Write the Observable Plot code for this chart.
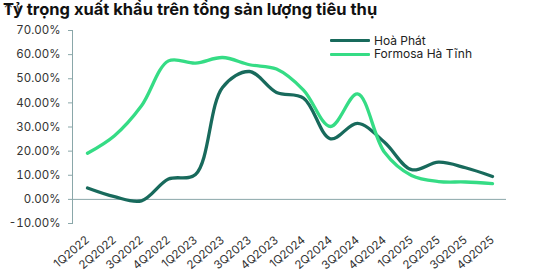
<!DOCTYPE html>
<html>
<head>
<meta charset="utf-8">
<script src="https://cdn.jsdelivr.net/npm/d3@7"></script>
<script src="https://cdn.jsdelivr.net/npm/@observablehq/plot@0.6"></script>
<style>
  body { margin: 0; background: #fff; font-family: Inter, "Liberation Sans", sans-serif; }
  #wrap { position: relative; width: 535px; height: 277px; overflow: hidden; }
  #title { position: absolute; left: 3px; top: 1px; font-size: 16.5px; line-height: 16px; font-weight: 700; color: #111; white-space: nowrap; }
  #legend { position: absolute; left: 330px; top: 34px; font-size: 12px; line-height: 12px; color: #222; }
  .li { display: flex; align-items: center; height: 13.5px; }
  .sw { width: 40px; height: 3px; margin-right: 4px; border-radius: 1px; }
</style>
</head>
<body>
<div id="wrap">
  <div id="chart"></div>
  <div id="title">Tỷ trọng xuất khẩu trên tổng sản lượng tiêu thụ</div>
  <div id="legend"></div>
</div>
<script>
const quarters = ["1Q2022","2Q2022","3Q2022","4Q2022","1Q2023","2Q2023","3Q2023","4Q2023","1Q2024","2Q2024","3Q2024","4Q2024","1Q2025","2Q2025","3Q2025","4Q2025"];
const hoaPhat = [4.7, 1.1, -0.6, 8.4, 10.3, 46.4, 53.0, 44.3, 42.0, 25.1, 31.5, 23.7, 12.3, 15.4, 13.1, 9.5];
const formosa = [19.1, 26.4, 38.8, 57.4, 56.5, 58.8, 55.8, 54.0, 45.3, 30.2, 43.7, 19.5, 9.9, 7.4, 7.2, 6.5];
const seriesNames = ["Hoà Phát", "Formosa Hà Tĩnh"];
const seriesColors = ["#186a5c", "#35dc85"];
const yTicks = [-10, 0, 10, 20, 30, 40, 50, 60, 70];

const data = [];
quarters.forEach((q, i) => {
  data.push({q, v: hoaPhat[i], s: seriesNames[0]});
  data.push({q, v: formosa[i], s: seriesNames[1]});
});

const axisColor = "#8aa7a9";
const chart = Plot.plot({
  width: 535,
  height: 277,
  marginLeft: 72,
  marginRight: 29,
  marginTop: 30,
  marginBottom: 54,
  style: {fontFamily: "Inter, 'Liberation Sans', sans-serif", fontSize: "12px", color: "#333", background: "transparent"},
  x: {type: "point", domain: quarters, padding: 0.5},
  y: {domain: [-10, 70]},
  color: {domain: seriesNames, range: seriesColors},
  marks: [
    Plot.frame({anchor: "left", stroke: axisColor}),
    Plot.ruleY([0], {stroke: axisColor, strokeWidth: 1}),
    Plot.axisY({ticks: yTicks, tickFormat: d => d.toFixed(2) + "%", tickSize: 4, tickPadding: 8, stroke: axisColor, fontSize: 11.5, fill: "#333"}),
    Plot.axisX({tickRotate: -40, tickSize: 0, tickPadding: 15, fontSize: 11.5, fill: "#333", label: null}),
    Plot.line(data, {x: "q", y: "v", z: "s", stroke: "s", strokeWidth: 3.3, curve: "catmull-rom"})
  ]
});
document.getElementById("chart").appendChild(chart);

const legend = document.getElementById("legend");
seriesNames.forEach((n, i) => {
  const row = document.createElement("div");
  row.className = "li";
  const sw = document.createElement("div");
  sw.className = "sw";
  sw.style.background = seriesColors[i];
  const t = document.createElement("span");
  t.textContent = n;
  row.appendChild(sw); row.appendChild(t);
  legend.appendChild(row);
});
</script>
</body>
</html>
